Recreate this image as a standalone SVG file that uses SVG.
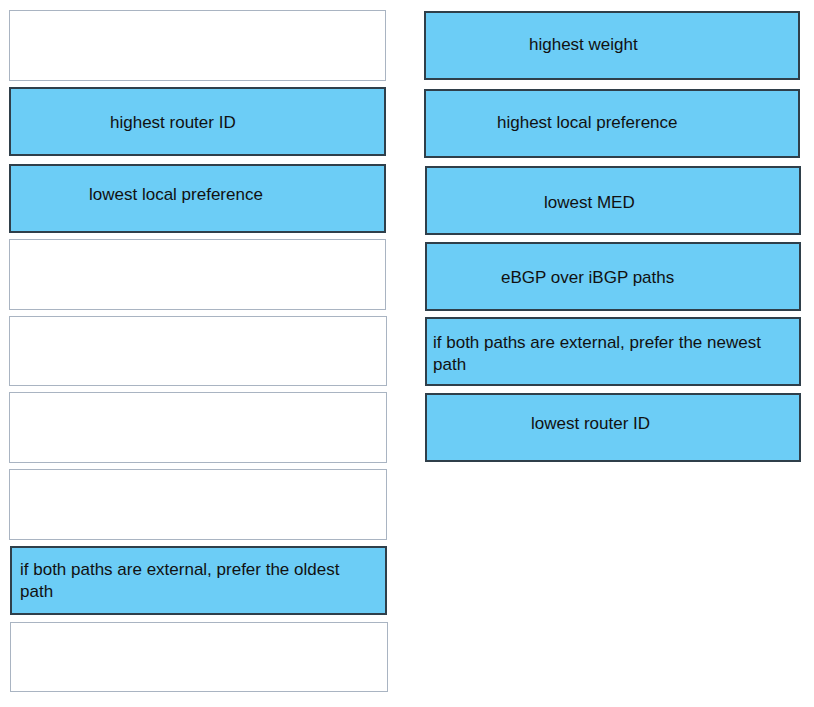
<svg xmlns="http://www.w3.org/2000/svg" width="814" height="707" viewBox="0 0 814 707">
<style>
.e{fill:#fff;stroke:#a9b4c2;stroke-width:1}
.b{fill:#6ccdf6;stroke:#2f3f4a;stroke-width:2}
text{font-family:"Liberation Sans",Arial,sans-serif;font-size:17px;fill:#111}
</style>
<rect width="814" height="707" fill="#fff"/>
<g id="left">
<g id="l1"><rect class="e" x="9.5" y="10.5" width="376" height="70"/></g>
<g id="l2"><rect class="b" x="10" y="88" width="375" height="67"/><text x="110" y="128">highest router ID</text></g>
<g id="l3"><rect class="b" x="10" y="165" width="375" height="67"/><text x="89" y="200">lowest local preference</text></g>
<g id="l4"><rect class="e" x="9.5" y="239.5" width="376" height="70"/></g>
<g id="l5"><rect class="e" x="9.5" y="316.5" width="377" height="69"/></g>
<g id="l6"><rect class="e" x="9.5" y="392.5" width="377" height="70"/></g>
<g id="l7"><rect class="e" x="9.5" y="469.5" width="377" height="70"/></g>
<g id="l8"><rect class="b" x="11" y="547" width="375" height="67"/><text x="20" y="575">if both paths are external, prefer the oldest</text><text x="20" y="597">path</text></g>
<g id="l9"><rect class="e" x="10.5" y="622.5" width="377" height="69"/></g>
</g>
<g id="right">
<g id="r1"><rect class="b" x="425" y="12" width="374" height="67"/><text x="529" y="50">highest weight</text></g>
<g id="r2"><rect class="b" x="425" y="90" width="374" height="67"/><text x="497" y="128">highest local preference</text></g>
<g id="r3"><rect class="b" x="426" y="167" width="374" height="67"/><text x="544" y="208">lowest MED</text></g>
<g id="r4"><rect class="b" x="426" y="243" width="374" height="67"/><text x="501" y="283">eBGP over iBGP paths</text></g>
<g id="r5"><rect class="b" x="426" y="318" width="374" height="67"/><text x="433" y="348">if both paths are external, prefer the newest</text><text x="433" y="370">path</text></g>
<g id="r6"><rect class="b" x="426" y="394" width="374" height="67"/><text x="531" y="429">lowest router ID</text></g>
</g>
<g id="connectors"/>
</svg>
